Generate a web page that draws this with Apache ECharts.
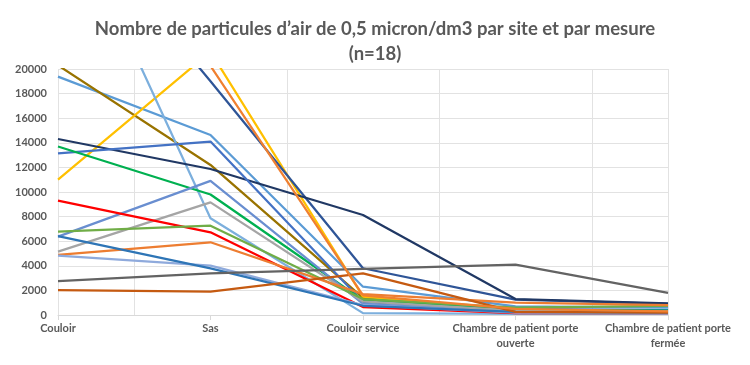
<!DOCTYPE html>
<html>
<head>
<meta charset="utf-8">
<script src="https://cdn.jsdelivr.net/npm/echarts@6/dist/echarts.min.js"></script>
<style>html,body{margin:0;padding:0;background:#fff}#c{width:750px;height:365px}</style>
</head>
<body>
<div id="c"></div>
<script>
const categories = ['Couloir', 'Sas', 'Couloir service', 'Chambre de patient porte\nouverte', 'Chambre de patient porte\nfermée'];
const yTicks = [0, 2000, 4000, 6000, 8000, 10000, 12000, 14000, 16000, 18000, 20000];

const m1 = [19380, 14630, 2300, 700, 600];
const m2 = [20300, 12200, 1400, 300, 200];
const m3 = [11000, 21400, 1500, 400, 300];
const m4 = [34000, 19000, 3800, 1250, 900];
const m5 = [34800, 7860, 150, 100, 100];
const m6 = [14310, 11870, 8130, 1300, 950];
const m7 = [13150, 14100, 1050, 500, 400];
const m8 = [13700, 9800, 1200, 400, 350];
const m9 = [6370, 10900, 900, 300, 250];
const m10 = [5150, 9160, 1100, 350, 300];
const m11 = [9300, 6720, 650, 150, 150];
const m12 = [6775, 7260, 1300, 600, 750];
const m13 = [4880, 5910, 1700, 1000, 800];
const m14 = [4820, 4010, 800, 200, 150];
const m15 = [6420, 3790, 750, 250, 200];
const m16 = [2760, 3390, 3740, 4100, 1800];
const m17 = [2030, 1900, 3390, 250, 200];
const m18 = [24000, 20250, 1600, 500, 300];

const seriesData = [m1, m2, m3, m4, m5, m6, m7, m8, m9, m10, m11, m12, m13, m14, m15, m16, m17, m18];
const colors = ['#5B9BD5', '#997300', '#FFC000', '#2F5597', '#7CAFDD', '#203864', '#4472C4', '#00B050', '#698ED0',
  '#A5A5A5', '#FF0000', '#70AD47', '#ED7D31', '#8FAADC', '#2E75B6', '#636363', '#C55A11', '#F08030'];

const chart = echarts.init(document.getElementById('c'));
const FONT = 'Lato';
const gridColor = '#e2e2e2';
chart.setOption({
  animation: false,
  title: {
    text: 'Nombre de particules d\u2019air de 0,5 micron/dm3 par site et par mesure\n(n=18)',
    left: 'center',
    top: 12,
    textStyle: { fontFamily: FONT, fontSize: 18.5, fontWeight: 'bold', color: '#595959', lineHeight: 25 }
  },
  grid: { left: 58, right: 82, top: 69, bottom: 50 },
  xAxis: [{
    type: 'category',
    data: categories,
    boundaryGap: false,
    axisLine: { lineStyle: { color: '#d9d9d9', width: 1 } },
    axisTick: { show: true, alignWithLabel: true, length: 5, lineStyle: { color: '#d9d9d9' } },
    axisLabel: { fontFamily: FONT, fontSize: 11, fontWeight: 'bold', color: '#595959', margin: 6, lineHeight: 15, interval: 0 },
    splitLine: { show: false }
  }, {
    type: 'value',
    min: 0, max: 4, interval: 0.5,
    position: 'bottom',
    show: true,
    axisLine: { show: false },
    axisTick: { show: false },
    axisLabel: { show: false },
    splitLine: { show: true, showMinLine: true, showMaxLine: true, lineStyle: { color: [gridColor, gridColor, 'rgba(0,0,0,0)', gridColor, 'rgba(0,0,0,0)', gridColor, 'rgba(0,0,0,0)', gridColor, gridColor], width: 1 } }
  }],
  yAxis: {
    type: 'value',
    min: yTicks[0], max: yTicks[yTicks.length - 1], interval: 2000,
    axisLine: { show: false },
    axisTick: { show: false },
    axisLabel: { fontFamily: FONT, fontSize: 11, fontWeight: 'bold', color: '#595959', margin: 11, formatter: v => String(v) },
    splitLine: { lineStyle: { color: gridColor, width: 1 } }
  },
  series: seriesData.map((d, i) => ({
    type: 'line',
    xAxisIndex: 0,
    data: d,
    symbol: 'none',
    clip: true,
    lineStyle: { color: colors[i], width: 2.25 },
    itemStyle: { color: colors[i] }
  }))
});
</script>
</body>
</html>
